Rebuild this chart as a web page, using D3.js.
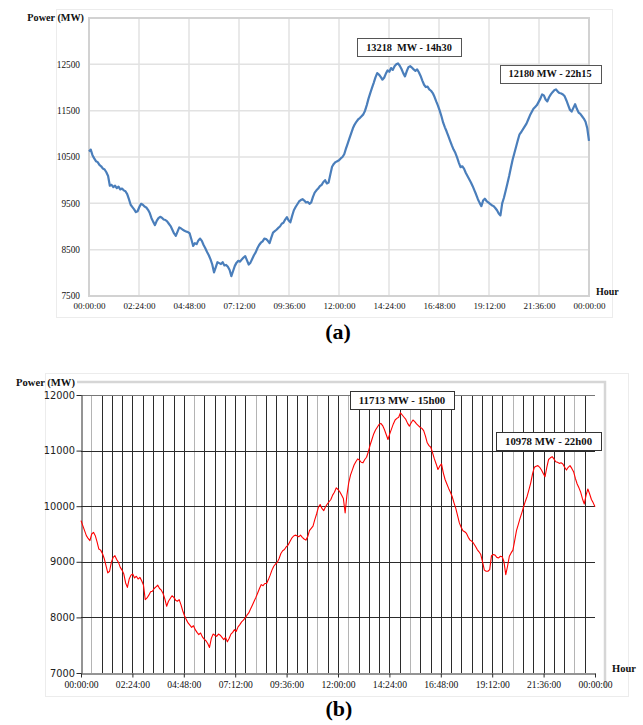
<!DOCTYPE html>
<html>
<head>
<meta charset="utf-8">
<script src="https://cdn.jsdelivr.net/npm/d3@7/dist/d3.min.js"></script>
<style>
  body { margin: 0; background: #fff; }
  svg { display: block; }
</style>
</head>
<body>
<svg id="chart" width="643" height="725"></svg>
<script>
// Shared time axis: one tick every 2h24 over a 24 h day
const tickHours  = [0, 2.4, 4.8, 7.2, 9.6, 12, 14.4, 16.8, 19.2, 21.6, 24];
const tickLabels = ["00:00:00", "02:24:00", "04:48:00", "07:12:00", "09:36:00", "12:00:00",
                    "14:24:00", "16:48:00", "19:12:00", "21:36:00", "00:00:00"];

const yTicksA = [7500, 8500, 9500, 10500, 11500, 12500];
const yTicksB = [7000, 8000, 9000, 10000, 11000, 12000];

// Load samples, one every 5 minutes from 00:00 to 24:00 (MW)
const sampleMinutes = 5;
const loadA = [
  10620, 10660, 10540, 10470, 10410, 10390, 10330, 10300, 10250, 10230, 10170, 10090,
  9880, 9900, 9850, 9880, 9830, 9860, 9800, 9820, 9780, 9760, 9700, 9590,
  9470, 9420, 9370, 9310, 9330, 9420, 9490, 9470, 9430, 9410, 9360, 9290,
  9180, 9100, 9030, 9120, 9180, 9210, 9190, 9150, 9140, 9110, 9060, 9010,
  8930, 8850, 8800, 8890, 8980, 8960, 8930, 8910, 8890, 8880, 8850, 8720,
  8580, 8640, 8620, 8700, 8740, 8690, 8600, 8530, 8450, 8380, 8290, 8180,
  8010, 8120, 8230, 8210, 8190, 8230, 8160, 8170, 8130, 8060, 7930, 8040,
  8150, 8220, 8260, 8240, 8290, 8330, 8360, 8270, 8180, 8220, 8300, 8380,
  8440, 8530, 8600, 8650, 8680, 8740, 8730, 8690, 8640, 8760, 8870, 8900,
  8930, 8970, 9000, 9060, 9080, 9150, 9200, 9130, 9090, 9230, 9350, 9420,
  9480, 9540, 9570, 9590, 9560, 9520, 9530, 9490, 9520, 9640, 9730, 9780,
  9820, 9870, 9900, 9960, 10000, 9930, 9950, 10120, 10290, 10350, 10390, 10410,
  10430, 10470, 10500, 10560, 10680, 10790, 10900, 11010, 11120, 11200, 11260, 11310,
  11340, 11380, 11420, 11500, 11620, 11760, 11880, 11990, 12100, 12220, 12310, 12280,
  12230, 12170, 12210, 12300, 12370, 12340, 12420, 12380, 12460, 12500, 12520, 12470,
  12400, 12310, 12240, 12350, 12440, 12460, 12430, 12390, 12360, 12390, 12330, 12250,
  12150, 12060, 12010, 12020, 11960, 11930, 11880, 11800, 11700, 11610, 11500, 11380,
  11240, 11140, 11050, 10950, 10850, 10750, 10660, 10590, 10490, 10380, 10280, 10300,
  10250, 10160, 10090, 10020, 9950, 9870, 9780, 9690, 9590, 9510, 9440, 9560,
  9600, 9550, 9520, 9490, 9460, 9440, 9400, 9350, 9280, 9240, 9500, 9620,
  9770, 9930, 10090, 10270, 10440, 10580, 10720, 10860, 10990, 11040, 11100, 11160,
  11220, 11310, 11400, 11470, 11540, 11580, 11620, 11690, 11760, 11850, 11830, 11740,
  11700, 11790, 11850, 11900, 11940, 11960, 11910, 11880, 11870, 11850, 11810, 11720,
  11620, 11520, 11480, 11560, 11640, 11540, 11460, 11430, 11380, 11330, 11260, 11120,
  10850
];
const loadB = [
  9740, 9650, 9560, 9470, 9420, 9380, 9500, 9530, 9470, 9360, 9230, 9210,
  9150, 9060, 8930, 8800, 8830, 8990, 9080, 9110, 9040, 8990, 8900, 8850,
  8780, 8620, 8540, 8690, 8760, 8780, 8710, 8740, 8690, 8720, 8660, 8580,
  8320, 8350, 8400, 8460, 8470, 8520, 8550, 8580, 8520, 8490, 8430, 8330,
  8200, 8290, 8340, 8390, 8360, 8310, 8290, 8320, 8230, 8120, 8030, 7960,
  7900, 7860, 7820, 7850, 7780, 7730, 7690, 7720, 7650, 7610, 7580, 7530,
  7460, 7620, 7700, 7680, 7660, 7700, 7680, 7640, 7600, 7640, 7560, 7620,
  7700, 7730, 7780, 7750, 7830, 7870, 7920, 7950, 7990, 8040, 8080, 8150,
  8220, 8290, 8360, 8440, 8520, 8590, 8570, 8610, 8610, 8680, 8760, 8850,
  8920, 8960, 8990, 9060, 9150, 9200, 9220, 9270, 9300, 9360, 9420, 9460,
  9480, 9470, 9450, 9480, 9440, 9410, 9390, 9450, 9560, 9600, 9640, 9760,
  9860, 9980, 10030, 9960, 9920, 9990, 10040, 10080, 10120, 10200, 10250, 10330,
  10300, 10260, 10200, 10140, 9880, 10200, 10420, 10560, 10650, 10740, 10800, 10850,
  10830, 10790, 10780, 10840, 10880, 10980, 11100, 11200, 11300, 11370, 11420, 11470,
  11490, 11450, 11380, 11290, 11200, 11300, 11390, 11480, 11550, 11580, 11600, 11680,
  11640, 11600, 11560, 11490, 11440, 11500, 11550, 11520, 11480, 11450, 11420, 11400,
  11360, 11260, 11140, 11090, 11060, 10960, 10850, 10760, 10660, 10720, 10760, 10600,
  10480, 10400, 10320, 10250, 10170, 10060, 9960, 9830, 9700, 9620, 9560, 9540,
  9510, 9440, 9390, 9370, 9330, 9280, 9220, 9180, 9130, 9000, 8850, 8830,
  8830, 8860, 9110, 9130, 9120, 9080, 9070, 9100, 9090, 9000, 8770, 8920,
  9100, 9160, 9210, 9380, 9560, 9670, 9780, 9880, 9990, 10090, 10180, 10300,
  10420, 10580, 10700, 10720, 10730, 10700, 10650, 10590, 10530, 10700, 10840, 10870,
  10890, 10850, 10800, 10790, 10770, 10780, 10760, 10700, 10650, 10700, 10730, 10680,
  10620, 10500, 10400, 10330, 10250, 10130, 10040, 10200, 10310, 10220, 10120, 10060,
  9990
];

// Peak callouts, anchored at (hour, MW) of the box centre
const calloutsA = [
  { text: "13218  MW - 14h30", hour: 15.36, level: 12864 },
  { text: "12180 MW - 22h15",  hour: 22.13, level: 12292 }
];
const calloutsB = [
  { text: "11713 MW - 15h00",  hour: 14.99, level: 11919 },
  { text: "10978 MW - 22h00",  hour: 21.83, level: 11164 }
];

const svg = d3.select("#chart");
const serif = "'Liberation Serif', 'Times New Roman', serif";
const sans  = "'DejaVu Sans', Verdana, sans-serif";

const toPoints = arr => arr.map((v, i) => ({ h: i * sampleMinutes / 60, v }));

function callouts(g, list, x, y, size, stroke) {
  list.forEach(c => {
    const cx = x(c.hour), cy = y(c.level);
    const box = g.append("rect").attr("fill", "#fff").attr("stroke", stroke).attr("stroke-width", 1);
    const t = g.append("text")
      .attr("x", cx).attr("y", cy)
      .attr("text-anchor", "middle").attr("dominant-baseline", "central")
      .attr("font-family", serif).attr("font-weight", "bold").attr("font-size", size)
      .style("white-space", "pre")
      .attr("fill", "#111").text(c.text);
    const bb = t.node().getBBox();
    const w = bb.width + 18, hgt = 18;
    box.attr("x", Math.round(cx - w / 2) + 0.5).attr("y", Math.round(cy - hgt / 2) + 0.5)
       .attr("width", Math.round(w)).attr("height", hgt);
  });
}

/* ---------- Panel (a) ---------- */
{
  const g = svg.append("g");
  const x = d3.scaleLinear().domain([0, 24]).range([89, 589]);
  const y = d3.scaleLinear().domain([7500, 13500]).range([296, 18]);

  // outer frame
  g.append("rect").attr("x", 56.5).attr("y", 9.5).attr("width", 556).attr("height", 308)
    .attr("fill", "none").attr("stroke", "#ececec").attr("stroke-width", 1);

  // grid
  g.append("g").selectAll("line").data(tickHours.slice(1, -1)).join("line")
    .attr("x1", d => x(d)).attr("x2", d => x(d)).attr("y1", y(13500)).attr("y2", y(7500))
    .attr("stroke", "#e2e2e2").attr("stroke-width", 1.5);
  g.append("g").selectAll("line").data(yTicksA.slice(1)).join("line")
    .attr("x1", x(0)).attr("x2", x(24)).attr("y1", d => y(d)).attr("y2", d => y(d))
    .attr("stroke", "#e2e2e2").attr("stroke-width", 1.5);

  // plot border
  g.append("rect").attr("x", x(0)).attr("y", y(13500))
    .attr("width", x(24) - x(0)).attr("height", y(7500) - y(13500))
    .attr("fill", "none").attr("stroke", "#d2d2d2").attr("stroke-width", 2);

  // axes (labels only)
  const ax = g.append("g").attr("transform", `translate(0,${y(7500)})`)
    .call(d3.axisBottom(x).tickValues(tickHours).tickFormat((d, i) => tickLabels[i]).tickSize(0).tickPadding(7));
  ax.select(".domain").remove();
  ax.selectAll("text").attr("font-family", serif).attr("font-size", 9).attr("fill", "#111");

  const ay = g.append("g").attr("transform", `translate(${x(0)},0)`)
    .call(d3.axisLeft(y).tickValues(yTicksA).tickFormat(d3.format("d")).tickSize(0).tickPadding(9));
  ay.select(".domain").remove();
  ay.selectAll("text").attr("font-family", serif).attr("font-size", 9.3).attr("fill", "#111");

  // series
  g.append("path").datum(toPoints(loadA))
    .attr("d", d3.line().x(d => x(d.h)).y(d => y(d.v)))
    .attr("fill", "none").attr("stroke", "#4a7ebb").attr("stroke-width", 2.2)
    .attr("stroke-linejoin", "round");

  callouts(g, calloutsA, x, y, 10.3, "#555");

  g.append("text").attr("x", 84).attr("y", 21).attr("text-anchor", "end")
    .attr("font-family", serif).attr("font-weight", "bold").attr("font-size", 10.2)
    .attr("fill", "#111").text("Power (MW)");
  g.append("text").attr("x", 596).attr("y", 295)
    .attr("font-family", serif).attr("font-weight", "bold").attr("font-size", 10)
    .attr("fill", "#111").text("Hour");
  g.append("text").attr("x", 338).attr("y", 339).attr("text-anchor", "middle")
    .attr("font-family", serif).attr("font-weight", "bold").attr("font-size", 22)
    .attr("fill", "#000").text("(a)");
}

/* ---------- Panel (b) ---------- */
{
  const g = svg.append("g");
  const x = d3.scaleLinear().domain([0, 24]).range([81, 595]);
  const y = d3.scaleLinear().domain([7000, 12000]).range([673, 395]);
  const gridStep = 0.48;           // vertical grid every 28.8 min
  const faint = new Set([1, 11, 17, 23, 26, 32, 42, 48]);

  // outer frame and inner panel edges
  g.append("rect").attr("x", 45.5).attr("y", 373.5).attr("width", 583).attr("height", 323)
    .attr("fill", "none").attr("stroke", "#ececec").attr("stroke-width", 1);
  g.append("path").attr("d", "M77,382H605V688")
    .attr("fill", "none").attr("stroke", "#d6d6d6").attr("stroke-width", 2.5);

  // vertical grid
  const vIdx = d3.range(1, 50);
  g.append("g").selectAll("line").data(vIdx).join("line")
    .attr("x1", i => Math.round(x(i * gridStep)) + 0.5).attr("x2", i => Math.round(x(i * gridStep)) + 0.5)
    .attr("y1", y(12000)).attr("y2", y(7000))
    .attr("stroke", i => faint.has(i) ? "#b4b4b4" : "#2b2b2b").attr("stroke-width", 1);

  // horizontal grid
  g.append("g").selectAll("line").data(yTicksB.slice(1)).join("line")
    .attr("x1", x(0)).attr("x2", x(24)).attr("y1", d => Math.round(y(d)) + 0.5).attr("y2", d => Math.round(y(d)) + 0.5)
    .attr("stroke", d => d === 12000 ? "#777" : "#2b2b2b").attr("stroke-width", 1);

  // axes
  const ax = g.append("g").attr("transform", `translate(0,${Math.round(y(7000)) + 0.5})`)
    .call(d3.axisBottom(x).tickValues(tickHours).tickFormat((d, i) => tickLabels[i]).tickSize(4).tickSizeOuter(0).tickPadding(4));
  ax.selectAll(".domain, line").attr("stroke", "#2b2b2b");
  ax.selectAll("text").attr("font-family", serif).attr("font-size", 9.6).attr("fill", "#111");

  const ay = g.append("g").attr("transform", `translate(${Math.round(x(0)) + 0.5},0)`)
    .call(d3.axisLeft(y).tickValues(yTicksB).tickFormat(d3.format("d")).tickSize(5).tickSizeOuter(0).tickPadding(1.5));
  ay.selectAll(".domain, line").attr("stroke", "#2b2b2b");
  ay.selectAll("text").attr("font-family", sans).attr("font-size", 9.8).attr("fill", "#222");

  // series
  g.append("path").datum(toPoints(loadB))
    .attr("d", d3.line().x(d => x(d.h)).y(d => y(d.v)))
    .attr("fill", "none").attr("stroke", "#ff0000").attr("stroke-width", 1.1)
    .attr("stroke-linejoin", "round");

  callouts(g, calloutsB, x, y, 10.8, "#333");

  g.append("text").attr("x", 75).attr("y", 386).attr("text-anchor", "end")
    .attr("font-family", serif).attr("font-weight", "bold").attr("font-size", 10.6)
    .attr("fill", "#111").text("Power (MW)");
  g.append("text").attr("x", 612).attr("y", 672)
    .attr("font-family", serif).attr("font-weight", "bold").attr("font-size", 10.5)
    .attr("fill", "#111").text("Hour");
  g.append("text").attr("x", 339).attr("y", 716).attr("text-anchor", "middle")
    .attr("font-family", serif).attr("font-weight", "bold").attr("font-size", 22)
    .attr("fill", "#000").text("(b)");
}
</script>
</body>
</html>
